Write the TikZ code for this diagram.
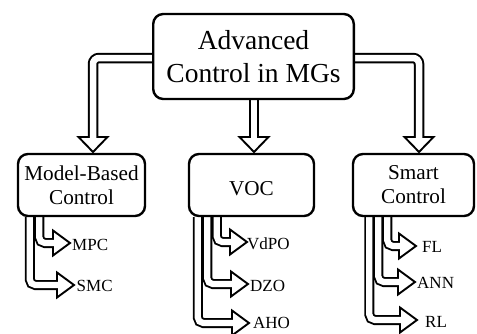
\documentclass[tikz,border=0pt]{standalone}
\usepackage{fontspec}
\setmainfont{Liberation Serif}
\usetikzlibrary{calc,backgrounds}
\newcommand\bigf{\fontsize{27.5}{33}\selectfont}
\newcommand\midf{\fontsize{21.2}{24}\selectfont}
\newcommand\smf{\fontsize{17}{20}\selectfont}
\tikzset{
  box/.style={draw, line width=2.4pt, rounded corners=10pt, fill=white, align=center, inner sep=0pt},
  lbl/.style={anchor=west, inner sep=0pt, font=\smf},
  mainout/.style={line width=10.5pt, rounded corners=6pt, line cap=butt},
  mainin/.style={white, line width=6.5pt, rounded corners=6pt, line cap=butt, shorten >=-2.5pt},
  subout/.style={line width=10pt, rounded corners=5.5pt, line cap=butt},
  subin/.style={white, line width=6.2pt, rounded corners=5.5pt, line cap=butt, shorten >=-2.5pt},
  headst/.style={fill=white, draw=black, line width=1.9pt, line join=miter}
}
\newcommand\hollowD[2]{%
  \draw[mainout] #1;
  \filldraw[headst] (#2) ++(-14.5,0) -- ++(14.5,15) -- ++(14.5,-15) -- cycle;
  \draw[mainin] #1;}
\newcommand\hollowR[2]{%
  \draw[subout] #1;
  \filldraw[headst] (#2) ++(0,-12.5) -- ++(17,12.5) -- ++(-17,12.5) -- cycle;
  \draw[subin] #1;}
\begin{document}
\begin{tikzpicture}[x=1pt,y=-1pt]
\useasboundingbox (0,0) rectangle (477,333);
\clip (0,0) rectangle (477,333);
% boxes
\node[box, minimum width=200.6pt, minimum height=85pt, font=\bigf] (top) at (253.5,56.5) {Advanced\\Control in MGs};
\node[box, minimum width=127pt, minimum height=62pt, font=\midf] (model) at (81.5,185) {Model-Based\\Control};
\node[box, minimum width=125pt, minimum height=62pt, font=\midf, text height=20.5pt, text depth=0pt] (voc) at (251.5,185) {VOC};
\node[box, minimum width=121pt, minimum height=62pt, font=\midf] (smart) at (413.5,185) {Smart\\Control};
% labels
\node[lbl] (mpc) at (72,245) {MPC};
\node[lbl] (smc) at (76.5,286) {SMC};
\node[lbl] (vdpo) at (247,244) {VdPO};
\node[lbl] (dzo) at (250,286) {DZO};
\node[lbl] (aho) at (253,323) {AHO};
\node[lbl] (fl) at (422,247) {FL};
\node[lbl] (ann) at (417,283) {ANN};
\node[lbl] (rl) at (425,322) {RL};
% head base points
\coordinate (bL) at (93,137);
\coordinate (bM) at (254,137);
\coordinate (bR) at (419,137);
\coordinate (bMPC) at (53,243);
\coordinate (bSMC) at (57,285);
\coordinate (bVdPO) at (230,242);
\coordinate (bDZO) at (231,284);
\coordinate (bAHO) at (232,323);
\coordinate (bFL) at (399,246);
\coordinate (bANN) at (398,282);
\coordinate (bRL) at (400,320);
\begin{scope}[on background layer]
\hollowD{([yshift=-1.5pt]top.west) -| (bL)}{bL}
\hollowD{(top.south -| bM) -- (bM)}{bM}
\hollowD{([yshift=-1.5pt]top.east) -| (bR)}{bR}
\hollowR{([xshift=13pt]model.south west) |- (bSMC)}{bSMC}
\hollowR{([xshift=22.5pt]model.south west) |- (bMPC)}{bMPC}
\hollowR{([xshift=10pt]voc.south west) |- (bAHO)}{bAHO}
\hollowR{([xshift=19.5pt]voc.south west) |- (bDZO)}{bDZO}
\hollowR{([xshift=29pt]voc.south west) |- (bVdPO)}{bVdPO}
\hollowR{([xshift=17.5pt]smart.south west) |- (bRL)}{bRL}
\hollowR{([xshift=26.5pt]smart.south west) |- (bANN)}{bANN}
\hollowR{([xshift=35.5pt]smart.south west) |- (bFL)}{bFL}
\end{scope}
\end{tikzpicture}
\end{document}
